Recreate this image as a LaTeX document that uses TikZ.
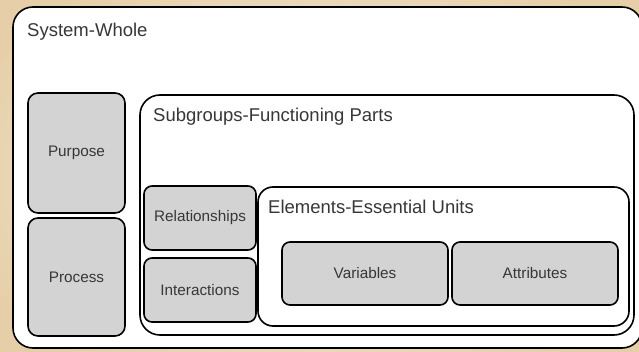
\documentclass[tikz,border=0pt]{standalone}
\usepackage{fontspec}
\setmainfont{Liberation Sans}
\usepackage{xcolor}
\definecolor{bgtan}{RGB}{230,207,168}
\definecolor{bglight}{RGB}{248,240,228}
\definecolor{boxgray}{RGB}{211,211,211}
\definecolor{textgray}{RGB}{55,55,55}
\usetikzlibrary{positioning}
\tikzset{frame box/.style={rectangle,draw=black,line width=1.6pt,fill=white,inner sep=0pt,outer sep=0pt,rounded corners=20pt},
         part box/.style={frame box,fill=boxgray,rounded corners=8pt,text=textgray,font=\fontsize{15.3}{17}\selectfont},
         title/.style={anchor=west,inner sep=0pt,text=textgray,font=\fontsize{18.5}{20}\selectfont},}

\begin{document}
\begin{tikzpicture}[x=1pt,y=-1pt]
	\clip (0,0) rectangle (639,352);
	\shade[inner color=bglight, outer color=bgtan] (-60,-60) rectangle (699,412);
	    % outer frame
	    \node[frame box, minimum width=629pt, minimum height=341pt] (whole) at (327.5,177.5) {};
	    \node[title] (wholelbl) at (27,32) {System-Whole};
	
	    \node[part box, minimum width=97pt, minimum height=120pt, rounded corners=10pt] (purpose) at (76.5,153) {Purpose};
	    \node[part box, minimum width=97pt, minimum height=118pt, rounded corners=10pt] (process) [below=5pt of purpose] {Process};
	
	    % subgroups
	    \node[frame box, minimum width=494pt, minimum height=240pt] (sub) at (387,215) {};
	    \node[title] (sublbl) at (153,117) {Subgroups-Functioning Parts};
	
	    \node[part box, minimum width=112pt, minimum height=64pt] (rel) at (200,218) {Relationships};
	    \node[part box, minimum width=112pt, minimum height=64pt] (inter) [below=8pt of rel] {Interactions};
	
	    % elements
	    \node[frame box, minimum width=371pt, minimum height=139pt, rounded corners=15pt] (elem) at (443.5,256.5) {};
	    \node[title] (elemlbl) at (268,207) {Elements-Essential Units};
	
	    \node[part box, minimum width=166pt, minimum height=63pt] (var) at (365,273.5) {Variables};
	    \node[part box, minimum width=166pt, minimum height=63pt] (attr) [right=4pt of var] {Attributes};
	\end{tikzpicture}
\end{document}
